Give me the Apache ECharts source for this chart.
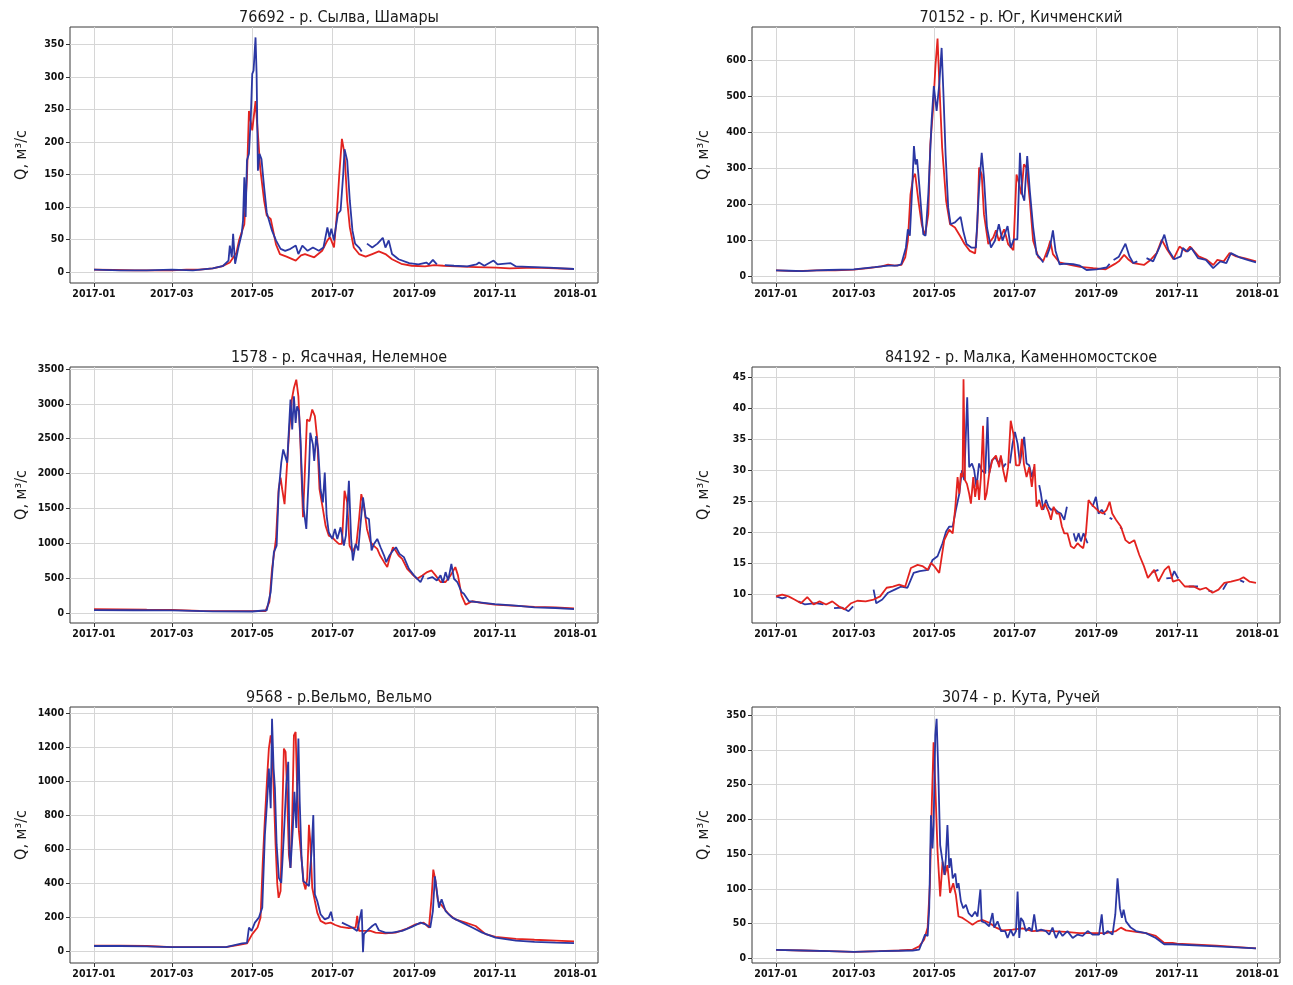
<!DOCTYPE html>
<html><head><meta charset="utf-8">
<script src="https://cdn.jsdelivr.net/npm/echarts@6/dist/echarts.min.js"></script>
<style>html,body{margin:0;padding:0;background:#fff}#c{width:1293px;height:985px}</style>
</head><body><div id="c"></div>
<script>
// x values are day-of-year 2017 (0 = 2017-01-01)
const monthTicks = [0, 59, 120, 181, 243, 304, 365];
const monthLabels = ['2017-01','2017-03','2017-05','2017-07','2017-09','2017-11','2018-01'];

const titles = ['76692 - р. Сылва, Шамары','70152 - р. Юг, Кичменский','1578 - р. Ясачная, Нелемное','84192 - р. Малка, Каменномостское','9568 - р.Вельмо, Вельмо','3074 - р. Кута, Ручей'];
const yLabel = 'Q, м³/с';

const yTicks76692 = [0,50,100,150,200,250,300,350];
const yTicks70152 = [0,100,200,300,400,500,600];
const yTicks1578 = [0,500,1000,1500,2000,2500,3000,3500];
const yTicks84192 = [10,15,20,25,30,35,40,45];
const yTicks9568 = [0,200,400,600,800,1000,1200,1400];
const yTicks3074 = [0,50,100,150,200,250,300,350];

const red76692 = [[0,4],[15,3.5],[31,3],[45,3],[59,3],[70,4],[80,4],[90,6],[97,9],[103,15],[108,30],[110,49],[114,74],[116,146],[117.5,248],[119,248],[120,218],[122.5,263],[124.5,207],[126,161],[129,110],[131,87],[134,82],[138,43],[141,28],[146,24],[153,18],[157,26],[160,28],[167,23],[173,33],[177,49],[179,54],[182,38],[184,85],[186,150],[188,205],[190,182],[192,110],[194,69],[197,38],[201,28],[206,24],[211,28],[216,32],[221,28],[226,20],[233,13],[241,10],[251,9],[258,11],[265,10],[275,9],[290,8],[305,7],[315,6],[334,7],[350,6],[364,5]];
const blue76692 = [[0,4],[20,3],[40,3],[59,4],[75,3],[90,6],[98,10],[102,18],[103,41],[104.5,23],[105.5,59],[107,13],[109.5,38],[112,59],[113,79],[114,146],[115,85],[116,172],[117.5,182],[119,243],[120,305],[121,310],[122.5,361],[123.3,305],[124.3,156],[125.5,182],[127,174],[129,131],[131,92],[132.5,90],[135,64],[138,49],[141.5,36],[145,33],[149,36],[153,41],[155,28],[158,41],[162,33],[166,38],[170.5,33],[174,38],[177,69],[178.5,54],[180,67],[182,49],[183,64],[185,90],[187,95],[189,151],[190,189],[192,172],[194,110],[196,64],[198,44],[201,38],[203,32],[204,null],[207,44],[211,38],[215,44],[219,53],[221,38],[223.5,49],[226,28],[231,20],[239,14],[246,12],[252,15],[254,12],[257,19],[260,12],[263,null],[266,11],[273,10],[283,9],[290,12],[292,15],[296,10],[303,18],[306,12],[310,13],[316,14],[320,9],[334,8],[345,7],[364,5]];

const red70152 = [[0,17],[15,15],[31,17],[45,17],[59,19],[70,23],[80,28],[85,33],[90,30],[95,32],[98,53],[100,99],[102,228],[104,274],[105.5,285],[108,210],[110.5,145],[113,113],[115.5,173],[117,366],[119,459],[121,588],[122.5,660],[124,523],[126,357],[129,210],[132,145],[135.7,136],[139.5,113],[143,90],[147,71],[151,64],[152.6,136],[154,302],[156,283],[157.7,173],[161,90],[164.7,108],[166.8,128],[169,99],[173,131],[176,90],[180,73],[182.4,283],[184.5,256],[186,228],[188,311],[190,302],[192.5,210],[195,99],[199,53],[202.7,43],[206.5,80],[208,99],[210,62],[215,39],[223,32],[230.5,27],[240.6,23],[250,20],[257,35],[260,42],[264,60],[267,48],[271,37],[279,32],[284,46],[288.7,65],[292.5,102],[296.7,74],[301.4,48],[306,83],[311,69],[314,83],[320.5,56],[326.8,46],[331.6,32],[334.7,46],[339.5,42],[344,65],[349,56],[355,51],[364,42]];
const blue70152 = [[0,17],[10,16],[20,15],[31,17],[40,18],[59,20],[75,26],[85,30],[92,30],[95,34],[98.5,80],[100,131],[101.5,113],[103.3,246],[104.6,362],[105.8,311],[107,325],[108.6,256],[110.4,173],[111.7,117],[113.4,113],[115.5,228],[118,431],[119.7,528],[121.8,459],[123.8,533],[125.6,634],[127,505],[128.6,339],[130.6,191],[132.4,145],[135.7,150],[138.2,159],[140,165],[142,126],[144.5,90],[148.3,80],[151.6,80],[154,246],[156,343],[157.7,274],[160,136],[163,80],[166,99],[169,145],[171.8,99],[175.6,140],[178,80],[180.4,103],[183,103],[185,343],[186.7,228],[188.3,210],[190.5,334],[192.5,237],[195,136],[197.6,62],[200,53],[202.7,39],[204,null],[205,53],[207.7,80],[210,128],[212,71],[215,34],[220,36],[225.4,34],[230.5,30],[235.5,18],[243,20],[250.7,25],[253,35],[255,null],[256,46],[260,55],[265,91],[268,56],[271,37],[274,42],[276,null],[281,51],[286,42],[291,83],[294.5,116],[297.5,74],[302,48],[307,56],[308.5,79],[312,69],[315,79],[320,51],[326,46],[331.5,23],[337,42],[341.5,37],[345,65],[351,54],[357.5,46],[364,39]];

const red1578 = [[0,55],[20,50],[40,45],[59,42],[80,30],[100,25],[120,25],[130,24],[133,157],[135,633],[138,1061],[140,1775],[141.5,1942],[142.7,1775],[144.5,1561],[146.5,2156],[148,2608],[150,3061],[151.6,3227],[153.4,3346],[155,3108],[156.6,2394],[158.5,1371],[161.5,2775],[163.5,2751],[165.5,2918],[167.5,2823],[169.3,2490],[171,1775],[173.6,1490],[175.6,1252],[178,1109],[180.7,1085],[183,1038],[185.7,990],[188,990],[190,1752],[192,1585],[193.8,966],[196,871],[199,990],[201,1347],[202.7,1704],[204.7,1537],[207,1204],[209.7,1014],[212,966],[214.8,919],[217,823],[220,728],[222.4,657],[224,776],[226.7,942],[228.7,895],[231,823],[233.7,776],[237.5,633],[241,562],[245,490],[249,538],[252.7,585],[256,609],[259,538],[262.8,443],[266.6,443],[270.4,538],[274,657],[276,538],[278.7,252],[281.8,119],[286.8,167],[295,140],[304,120],[320,100],[334,85],[350,80],[364,65]];
const blue1578 = [[0,40],[30,38],[59,35],[90,22],[120,20],[131,38],[134,300],[136.4,871],[138.5,966],[140,1728],[142,2156],[143.5,2346],[145,2322],[146.5,2156],[147.8,2632],[149,3061],[150.3,2632],[151.6,3108],[152.9,2727],[154,2965],[155.4,2894],[156.6,2490],[158,1775],[159,1490],[161,1204],[163,2013],[164,2584],[166,2418],[167,2180],[168.5,2537],[170,2346],[171.8,1775],[173.6,1585],[175,2013],[176.4,1395],[178,1157],[180.7,1061],[182.7,1204],[184.5,1061],[187,1228],[189.5,966],[191,1109],[193.3,1894],[195,1061],[196.3,752],[198.4,990],[200.4,895],[202,1252],[204,1656],[206,1371],[208.5,1347],[210.5,895],[212.3,990],[214.8,1061],[217.3,942],[220,823],[221.6,728],[224,823],[226.7,895],[229,942],[231.7,847],[235,800],[238.8,633],[242.6,538],[247.6,443],[250,538],[251,null],[252.7,490],[256.5,514],[260,466],[262.8,538],[264.6,433],[266.6,585],[268.6,466],[271,704],[273,490],[275.5,443],[278.7,300],[280.5,276],[284.3,167],[289,157],[304,125],[320,105],[334,80],[350,70],[364,55]];

const red84192 = [[0,9.6],[4.7,9.9],[9.5,9.6],[14,9.1],[19,8.5],[23.7,9.5],[28.5,8.3],[33,8.8],[38,8.3],[42.7,8.8],[47.5,8.0],[52,7.5],[57,8.5],[61.7,8.9],[68,8.8],[74,9.1],[79,9.6],[83.9,11],[88.6,11.2],[93.4,11.5],[98,11.2],[102.3,14.2],[107.4,14.7],[111,14.5],[115,13.9],[117.5,15],[120,14.5],[123.8,13.4],[127.6,18.7],[131.4,20.4],[134,19.8],[136,24.1],[137.7,28.9],[139,26.2],[140.2,29.5],[141.5,28.9],[142.2,44.7],[143.3,28.4],[144.8,27.8],[146.5,26.2],[147.8,24.6],[149.6,28.9],[151,25.7],[152.8,28.4],[154,25.2],[155.4,28.9],[157,37.2],[158.4,25.2],[159.7,26.2],[161.7,29.5],[164,31.6],[166.8,32.4],[169.3,30.5],[170.5,32.4],[172.3,30],[174.3,28.1],[176,30.5],[178,38],[180,35.9],[182,30.8],[184.5,30.8],[186.5,35.1],[188,31],[190,28.9],[192,30.5],[194,27.3],[196,31],[197.6,24.1],[199.6,25.2],[201.6,23.6],[204,24.6],[206.7,23.3],[208.5,22],[210.5,24.1],[212.8,23],[214.8,23],[216.8,20.9],[218.6,19.8],[221,19.8],[223.6,17.7],[226,17.4],[228.7,18.2],[231,17.7],[233,17.4],[235,19.8],[237,25.2],[239.6,24.4],[242.6,23.8],[245,23.3],[248,23],[250.7,23.6],[253,24.9],[255,23],[257.8,22],[261.5,20.9],[265,18.7],[268,18.2],[271.7,18.7],[275.5,16.3],[279,14.5],[282,12.6],[286.8,13.9],[290,12.0],[294.7,13.9],[297.8,14.5],[301,12],[305.6,12.3],[310,11.2],[316.8,11.2],[321.5,10.7],[326,11],[331,10.2],[335.6,10.7],[340,11.8],[345,12.0],[351,12.3],[354.5,12.7],[359,12.0],[364,11.8]];
const blue84192 = [[0,9.6],[4.7,9.3],[8,9.5],[12,null],[17,8.8],[22,8.3],[30,8.5],[36,8.3],[39,null],[44,7.7],[50,7.8],[55,7.2],[58.5,8.0],[60,null],[74,10.7],[76,8.5],[80.6,9.1],[85,10.2],[90,10.7],[95,11.2],[99.7,11],[104.4,13.4],[109,13.7],[115.5,13.9],[118.7,15.5],[122.5,16.1],[126.3,18.2],[129,20.1],[131.4,20.9],[134,20.9],[136.4,23.6],[139,26.2],[141,30],[142.7,28.4],[145,41.8],[146.5,30.5],[148.6,31.1],[150.3,30],[152,27.3],[154,31.1],[156,30],[158.7,29.5],[160.4,38.6],[161.7,29.5],[163.7,31.6],[166.3,32.1],[168.8,31.1],[170.5,32.1],[172.3,30.5],[174.3,31.1],[175.5,null],[177.4,31.1],[179.4,34.3],[181.2,36.2],[183.2,34.3],[185,31.1],[186.5,33.2],[188.2,35.4],[190,31.1],[192,30.8],[194,28.9],[195.8,30.5],[197,null],[199.6,27.6],[200.9,26.2],[202.7,23.6],[204.7,25.2],[206.7,24.1],[208.5,23.6],[211,23.8],[213.5,23.3],[216,23],[218.6,22],[220.6,24.1],[222,null],[225.7,19.8],[227.4,18.5],[229.5,19.8],[231.2,18.5],[233.2,19.8],[236.3,18.2],[238,null],[240,24.1],[242.6,25.7],[244.6,23],[247,23.6],[249.7,22.8],[251,null],[253,22.3],[255,22.1],[256,null],[261,20.8],[262.5,20.5],[264,null],[285,13.5],[290,13.9],[291,null],[296,12.5],[300,12.6],[302,13.7],[305,12.5],[306,null],[313,11.2],[320,11.2],[321,null],[328,10.5],[331,10.4],[332,null],[339,10.7],[342,11.8],[343,null],[352,12.2],[355,11.9]];

const red9568 = [[0,30],[20,30],[40,28],[59,22],[80,22],[100,22],[110,35],[116,43],[120,98],[124,137],[126.3,195],[128,527],[129.6,781],[131.4,1035],[132.6,1191],[134,1269],[135,1211],[136.4,918],[137.7,625],[139,391],[140,312],[141.5,352],[142.7,781],[144,1191],[145.3,1172],[146.5,918],[147.8,566],[149,488],[150.3,781],[151.6,1269],[152.9,1289],[154,977],[155.4,703],[156.6,605],[158,488],[159,400],[160.4,361],[161.7,430],[163,742],[164,645],[165.5,371],[167.5,293],[169.3,225],[171.8,176],[175.6,160],[179.4,166],[183,152],[187,141],[193.3,133],[198.4,137],[199.6,205],[201,117],[204.7,117],[209.7,117],[213.5,107],[221,102],[228.7,107],[236.3,127],[243.9,156],[250,166],[254,137],[256,312],[257.3,478],[259,410],[260.8,293],[264,264],[269,215],[274,185],[281.8,166],[289.4,146],[297,98],[304.5,82],[320,70],[334,65],[350,60],[364,55]];
const blue9568 = [[0,28],[20,28],[40,26],[59,22],[80,22],[100,22],[112.4,43],[116,47],[117.5,137],[119.5,117],[122,166],[125,195],[127.6,254],[129.6,684],[131.4,898],[132.6,1074],[134,840],[135,1367],[136.2,1074],[137.2,957],[138.5,625],[140.2,430],[142,400],[144,684],[145.8,977],[147.3,1113],[148.3,566],[149,488],[150.8,723],[152,937],[153.4,723],[155,1250],[156,879],[157.4,547],[158.7,410],[160.4,400],[163,381],[165,586],[166.3,800],[167.5,332],[169.3,293],[171.8,215],[175,185],[178,195],[179.7,230],[181.2,176],[182,null],[188,166],[195.8,137],[199.6,117],[203,244],[204,-8],[204.7,98],[207,117],[211,146],[213.5,160],[216,121],[221,107],[226,107],[233.7,117],[241,141],[247.7,166],[251.4,156],[255,137],[257,234],[258.5,439],[260,439],[261.6,254],[263.6,303],[266.6,234],[271.7,195],[279.3,166],[286.8,137],[294.4,107],[304.5,78],[320,60],[334,52],[350,48],[364,45]];

const red3074 = [[0,12],[20,11],[40,10],[59,9],[78,10],[93.5,11],[103.6,12.4],[108.6,17],[112.4,27],[115,44],[116.7,106],[118.2,225],[119.5,311],[120.8,249],[122.5,154],[124.5,89],[126.3,139],[128,120],[130,134],[132,94],[134.4,108],[136.4,91],[138.4,60],[141.5,58],[145.3,53],[149,48],[152.8,53],[156.7,55],[161.7,51],[166.8,44],[171.8,40],[179.4,41],[187,43],[194.6,39],[202,40],[209.7,39],[219.8,38],[230,36],[240,36],[250,36],[257.8,39],[261.6,44],[265.4,40],[273,38],[280.5,36],[288,32],[294.4,22],[300.7,22],[304,21],[334,18],[364,14]];
const blue3074 = [[0,12],[20,11],[40,10],[59,9],[80,10],[103.6,11],[108.6,12.4],[111,24],[113,34],[115,32],[116.2,72],[117.5,206],[118.7,158],[119.5,192],[120.8,321],[121.8,345],[123,273],[124.5,163],[126.3,139],[127.8,120],[128.8,144],[130,192],[131.4,130],[132.6,144],[134,115],[136,122],[137.2,101],[138.4,108],[140.2,82],[142,72],[144,77],[146,65],[148.6,60],[151,67],[152.8,60],[155,99],[156,53],[158.7,51],[161.7,46],[164.2,65],[165.5,44],[168,53],[170.6,39],[173.8,39],[175.6,29],[178,41],[180,32],[182,39],[183.2,96],[184.5,29],[185.7,58],[187.5,53],[189.5,39],[192,44],[194,39],[195.8,63],[197.6,39],[201,41],[204.7,39],[207.2,34],[209.7,44],[212.3,29],[214.8,39],[217.3,32],[221,39],[225,29],[228.7,34],[232.5,32],[236.3,39],[240,34],[245,34],[247,63],[248.4,34],[251.4,39],[255.2,34],[257.3,63],[259,115],[260.8,72],[262.3,58],[263.6,70],[265.4,53],[269,44],[273,39],[280.5,36],[288,29],[294.4,20],[300.7,20],[334,17],[364,14]];

const panels = [
  {title: titles[0], red: red76692, blue: blue76692, ticks: yTicks76692, min: -16.5, max: 377},
  {title: titles[1], red: red70152, blue: blue70152, ticks: yTicks70152, min: -18, max: 692},
  {title: titles[2], red: red1578, blue: blue1578, ticks: yTicks1578, min: -145, max: 3528},
  {title: titles[3], red: red84192, blue: blue84192, ticks: yTicks84192, min: 5.3, max: 46.7, redOnTop: true},
  {title: titles[4], red: red9568, blue: blue9568, ticks: yTicks9568, min: -72, max: 1436},
  {title: titles[5], red: red3074, blue: blue3074, ticks: yTicks3074, min: -7, max: 362}
];

const RED = '#e3231f', BLUE = '#2b37a3';
const FONT = '"DejaVu Sans Condensed", "DejaVu Sans", sans-serif';
const grid = [], xAxis = [], yAxis = [], series = [], title = [];
const fix = arr => arr.map(p => [p[0], p[1] === null ? '-' : p[1]]);

panels.forEach((p, i) => {
  const col = i % 2, row = Math.floor(i / 2);
  const left = col ? 752 : 70, top = 27 + row * 340, w = 528, h = 256;
  grid.push({left: left, top: top, width: w, height: h, show: true, borderColor: '#3a3a3a', borderWidth: 1, backgroundColor: '#fff'});
  title.push({text: p.title, left: left + w / 2, top: top - 22, textAlign: 'center',
    textStyle: {fontFamily: FONT, fontSize: 16, fontWeight: 'normal', color: '#1a1a1a'}});
  xAxis.push({gridIndex: i, type: 'value', min: -18.2, max: 382.2,
    axisLine: {show: false, onZero: false},
    axisTick: {show: true, customValues: monthTicks, length: 4, lineStyle: {color: '#333'}},
    axisLabel: {customValues: monthTicks, margin: 6, fontFamily: FONT, fontWeight: 'bold', fontSize: 10.5, color: '#111',
      formatter: v => monthLabels[monthTicks.indexOf(Math.round(v))] || ''},
    splitLine: {show: true, lineStyle: {color: '#d6d6d6', width: 1}}});
  yAxis.push({gridIndex: i, type: 'value', min: p.min, max: p.max,
    name: yLabel, nameLocation: 'middle', nameGap: 40, nameRotate: 90,
    nameTextStyle: {fontFamily: FONT, fontSize: 16, color: '#1a1a1a'},
    axisLine: {show: false, onZero: false},
    axisTick: {show: true, customValues: p.ticks, length: 4, lineStyle: {color: '#333'}},
    axisLabel: {customValues: p.ticks, margin: 6, fontFamily: FONT, fontWeight: 'bold', fontSize: 10.5, color: '#111',
      formatter: v => String(Math.round(v))},
    splitLine: {show: true, lineStyle: {color: '#d6d6d6', width: 1}}});
  const r = {type: 'line', name: 'red' + i, xAxisIndex: i, yAxisIndex: i, data: fix(p.red), showSymbol: false, symbol: 'none',
    lineStyle: {color: RED, width: 1.8}, itemStyle: {color: RED}, z: p.redOnTop ? 4 : 2, silent: true};
  const b = {type: 'line', name: 'blue' + i, xAxisIndex: i, yAxisIndex: i, data: fix(p.blue), showSymbol: false, symbol: 'none',
    lineStyle: {color: BLUE, width: 1.8}, itemStyle: {color: BLUE}, z: p.redOnTop ? 2 : 4, silent: true};
  series.push(r, b);
});

const chart = echarts.init(document.getElementById('c'), null, {renderer: 'canvas'});
chart.setOption({animation: false, backgroundColor: '#fff', title, grid, xAxis, yAxis, series});
</script></body></html>
